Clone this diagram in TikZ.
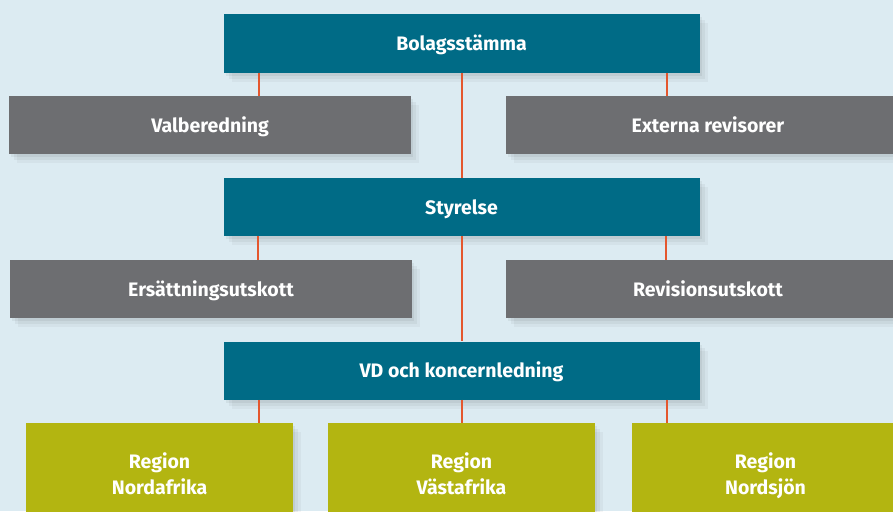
\documentclass[tikz,border=0pt]{standalone}
\usepackage{fontspec}
\setmainfont{Fira Sans}
\usetikzlibrary{shadows}

\definecolor{bgblue}{HTML}{DCEBF2}
\definecolor{boardteal}{HTML}{006B86}
\definecolor{advgray}{HTML}{6D6E71}
\definecolor{regolive}{HTML}{B3B511}
\definecolor{linkorange}{HTML}{E4572E}

\tikzset{
  orgbox/.style={rectangle, inner sep=0pt, text=white, font=\fontsize{19.5}{26}\selectfont\bfseries,
    align=center,
    drop shadow={shadow xshift=8pt, shadow yshift=-9pt, opacity=0.035, fill=black},
    drop shadow={shadow xshift=5pt, shadow yshift=-6pt, opacity=0.045, fill=black},
    drop shadow={shadow xshift=2pt, shadow yshift=-3pt, opacity=0.05, fill=black}},
  onerow/.style={text height=16pt, text depth=1.6pt},
  mainbox/.style={orgbox, onerow, fill=boardteal, minimum width=476pt, minimum height=58pt},
  sidebox/.style={orgbox, onerow, fill=advgray, minimum width=402pt, minimum height=58pt},
  regionbox/.style={orgbox, text depth=0pt, fill=regolive, minimum width=267pt, minimum height=102pt},
  link/.style={linkorange, line width=2pt}
}

\begin{document}
\begin{tikzpicture}[x=1pt,y=-1pt]
	% background and frame
	\clip (0,0) rectangle (893,511);
	\fill[bgblue] (0,0) rectangle (893,511);
	
	% main line
	\node[mainbox] (bolag) at (461.5,43.5) {Bolagsstämma};
	\node[mainbox] (styr) at (461.5,207) {Styrelse};
	\node[mainbox] (vd) at (461.5,370.5) {VD och koncernledning};
	
	% side boxes
	\node[sidebox] (valb) at (210,125) {Valberedning};
	\node[sidebox, minimum width=404pt] (extrev) at (708,125) {Externa revisorer};
	\node[sidebox] (ersutsk) at (211,289) {Ersättningsutskott};
	\node[sidebox, minimum width=404pt] (revutsk) at (708,289) {Revisionsutskott};
	
	% regions
	\node[regionbox] (nordafr) at (159.5,474) {Region\\Nordafrika};
	\node[regionbox] (vastafr) at (461.5,474) {Region\\Västafrika};
	\node[regionbox] (nordsj) at (765.5,474) {Region\\Nordsjön};
	
	% links
	\draw[link] ([xshift=36pt]bolag.south west) -- ([xshift=36pt]bolag.south west |- valb.north);
	\draw[link] (bolag.south) -- (styr.north);
	\draw[link] ([xshift=-33pt]bolag.south east) -- ([xshift=-33pt]bolag.south east |- extrev.north);
	
	\draw[link] ([xshift=35pt]styr.south west) -- ([xshift=35pt]styr.south west |- ersutsk.north);
	\draw[link] (styr.south) -- (vd.north);
	\draw[link] ([xshift=-34pt]styr.south east) -- ([xshift=-34pt]styr.south east |- revutsk.north);
	
	\draw[link] ([xshift=36pt]vd.south west) -- ([xshift=36pt]vd.south west |- nordafr.north);
	\draw[link] (vd.south) -- (vastafr.north);
	\draw[link] ([xshift=-33pt]vd.south east) -- ([xshift=-33pt]vd.south east |- nordsj.north);
	
\end{tikzpicture}
\end{document}
